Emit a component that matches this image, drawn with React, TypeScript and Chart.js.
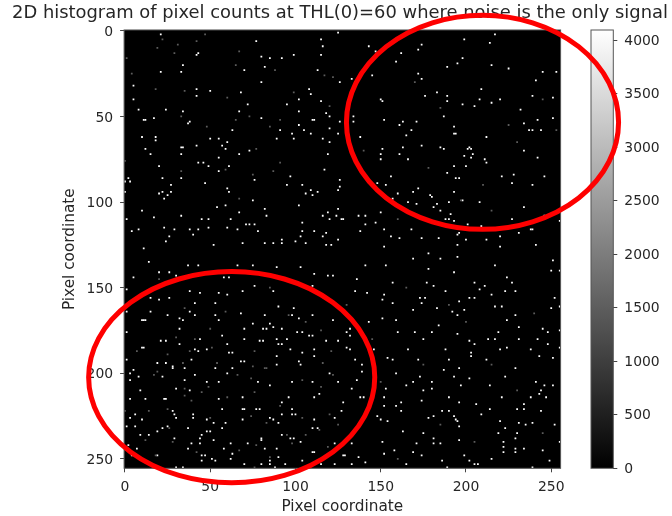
import { useEffect, useRef } from "react";
import { Chart, registerables } from "chart.js";

Chart.register(...registerables);

const titleText = "2D histogram of pixel counts at THL(0)=60 where noise is the only signal";
const axisLabel = "Pixel coordinate";
const axisTicks = [0, 50, 100, 150, 200, 250];
const colorbarTicks = [0, 500, 1000, 1500, 2000, 2500, 3000, 3500, 4000];
const colorbarMax = 4095;
const brightCount = 4095;
const dimCount = 1500;

const pixelsTopLeft: number[][] = [[21,2],[125,1],[115,5],[116,9],[77,6],[43,13],[42,14],[115,14],[99,14],[92,16],[85,16],[80,15],[82,21],[70,23],[113,23],[33,24],[21,24],[34,20],[80,30],[126,30],[5,32],[42,34],[68,36],[108,34],[50,35],[42,38],[5,40],[102,40],[115,41],[109,37],[72,43],[95,43],[8,46],[24,46],[34,47],[67,47],[102,47],[118,48],[120,50],[11,52],[12,52],[17,51],[80,51],[110,52],[111,52],[126,53],[38,53],[37,54],[102,55],[63,58],[91,58],[105,58],[120,57],[98,60],[109,60],[125,60],[10,62],[18,62],[18,64],[50,63],[55,63],[60,65],[89,63],[99,63],[116,63],[120,65],[42,67],[57,67],[33,68],[34,68],[12,69],[59,69],[73,70],[15,72],[33,72],[67,72],[119,72],[55,74],[43,77],[49,79],[61,79],[46,77],[20,79],[55,82],[117,81],[33,86],[22,86],[2,86],[3,88],[0,88],[76,87],[97,85],[126,87],[47,89],[27,90],[27,94],[0,94],[104,90],[126,91],[125,93],[109,93],[95,90],[60,92],[61,94],[23,98],[25,96],[20,95],[22,94],[106,95],[110,96],[113,94],[75,99],[54,103],[59,102],[82,104],[102,102],[125,104],[10,105],[67,106],[33,108],[116,108],[119,106],[124,108],[127,110],[120,110],[1,110],[17,109],[45,110],[62,110],[49,110],[83,108],[104,112],[73,113],[71,113],[76,113],[23,115],[8,116],[38,116],[4,117],[29,116],[60,115],[49,115],[66,116],[78,117],[43,116],[118,118],[111,117],[104,117],[26,120],[103,120],[116,120],[40,119],[92,122],[100,123],[125,122],[24,123],[52,125],[11,127],[69,124],[82,124],[87,124],[118,125],[92,124],[106,124],[121,125]];

const pixelsTopRight: number[][] = [[143,9],[217,2],[199,5],[214,7],[147,12],[162,13],[174,8],[172,11],[198,16],[195,19],[159,18],[215,20],[189,21],[225,22],[245,24],[253,24],[172,25],[145,26],[133,28],[174,28],[241,29],[209,34],[183,36],[176,38],[189,38],[239,38],[251,39],[150,40],[151,41],[189,41],[208,40],[198,43],[205,44],[220,40],[215,42],[232,46],[242,52],[251,51],[152,52],[171,53],[187,50],[163,53],[161,55],[134,50],[134,53],[234,54],[168,58],[193,56],[165,61],[193,60],[194,60],[239,58],[237,58],[244,58],[138,62],[212,62],[174,67],[202,68],[201,69],[203,69],[185,68],[163,68],[187,69],[151,69],[150,72],[161,72],[150,75],[199,73],[204,72],[203,74],[166,75],[211,75],[212,77],[234,70],[242,74],[193,79],[200,79],[221,85],[228,84],[246,85],[156,85],[189,83],[194,86],[196,86],[227,89],[148,89],[239,90],[153,90],[169,94],[172,92],[193,94],[179,96],[180,97],[157,98],[160,95],[198,99],[166,100],[171,101],[183,101],[181,103],[208,100],[185,105],[190,100],[234,103],[246,108],[191,107],[137,108],[128,110],[141,108],[150,106],[188,110],[190,110],[193,111],[227,110],[201,113],[209,114],[141,113],[147,112],[152,116],[168,116],[138,117],[196,118],[238,116],[239,116],[255,111],[156,120],[161,121],[174,121],[184,121],[195,119],[200,122],[212,122],[220,120],[231,118],[152,126],[195,125],[220,126],[241,125]];

const pixelsMidLeft: number[][] = [[14,135],[26,141],[43,137],[58,144],[61,144],[66,137],[75,137],[89,138],[103,138],[111,142],[119,143],[122,143],[136,145],[141,137],[5,144],[20,141],[30,143],[37,137],[76,149],[69,152],[38,152],[44,153],[55,153],[60,154],[87,152],[110,149],[135,152],[115,154],[1,151],[15,156],[20,157],[26,156],[142,153],[148,225],[141,252],[137,249],[140,214],[136,204],[139,228],[143,170],[146,186]];

const pixelsLowerA: number[][] = [[41,159],[53,159],[1,164],[15,164],[38,164],[25,166],[41,166],[53,166],[32,168],[34,169],[10,169],[11,169],[12,169],[55,169],[68,165],[1,176],[57,178],[32,174],[21,181],[24,181],[44,180],[60,183],[70,180],[11,185],[10,185],[48,186],[41,186],[43,187],[61,188],[63,188],[39,192],[1,192],[28,196],[28,197],[35,197],[53,197],[63,197],[5,198],[3,200],[60,200],[8,202],[22,202],[41,201],[35,204],[55,205],[48,205],[70,193],[68,193],[3,204],[24,194],[19,194],[32,183]];

const pixelsLowerB: number[][] = [[30,209],[38,210],[9,210],[23,215],[24,215],[3,215],[12,215],[55,215],[69,214],[57,221],[69,221],[28,222],[29,224],[40,224],[6,224],[3,226],[10,227],[30,226],[40,226],[48,227],[69,227],[52,229],[1,231],[6,231],[25,231],[37,232],[22,232],[57,232],[59,229],[19,234],[48,234],[50,234],[45,236],[29,238],[44,238],[52,239],[39,241],[62,241],[44,241],[58,244],[37,244],[2,242],[7,244],[47,248],[45,248],[63,247],[62,250],[34,255],[30,255],[45,251],[53,251],[51,250],[4,248],[19,248],[14,236],[9,236]];

const pixelsLowerC: number[][] = [[90,161],[99,162],[98,166],[82,166],[110,166],[102,168],[87,173],[85,171],[75,171],[81,174],[83,174],[92,174],[101,176],[104,176],[108,178],[110,178],[89,180],[79,181],[81,181],[95,180],[118,181],[125,181],[90,183],[92,183],[97,186],[111,186],[104,188],[111,190],[89,190],[89,195],[130,185],[132,186],[130,176],[132,174],[132,178],[122,169],[102,193],[139,195],[139,199],[78,205],[98,205],[110,205],[125,205],[120,200],[135,192],[103,195],[70,174]];

const pixelsLowerD: number[][] = [[85,207],[96,214],[111,214],[114,212],[133,209],[128,217],[70,221],[77,221],[79,221],[92,217],[98,221],[127,222],[98,224],[85,226],[87,227],[92,224],[111,227],[123,226],[100,224],[90,229],[110,232],[113,232],[92,236],[97,238],[99,238],[80,238],[80,239],[72,241],[89,244],[110,246],[111,246],[123,241],[103,240],[85,251],[90,249],[104,251],[123,253],[128,248],[94,253],[115,253],[85,253],[88,255],[70,253],[80,253],[133,253],[129,248],[133,241],[138,214],[82,244]];

const pixelsBottomRight: number[][] = [[178,130],[153,137],[169,133],[185,133],[195,132],[217,137],[251,134],[250,140],[255,140],[178,139],[193,141],[157,147],[177,147],[181,149],[205,147],[211,149],[208,151],[224,144],[227,147],[229,152],[215,154],[188,152],[152,154],[151,157],[173,156],[176,156],[196,158],[202,156],[205,156],[223,152],[174,159],[157,159],[217,161],[221,161],[252,156],[255,161],[183,162],[192,164],[195,166],[169,163],[151,168],[159,169],[224,169],[199,163],[229,166],[250,162],[231,173],[245,174],[248,176],[160,176],[170,176],[180,176],[184,172],[195,177],[219,176],[213,180],[217,180],[175,180],[202,181],[205,183],[255,175],[231,180],[242,180],[248,183],[224,185],[220,186],[238,186],[255,185],[166,186],[203,188],[203,190],[243,190],[188,186],[212,192],[190,192],[157,192],[154,191],[229,197],[196,197],[172,192],[251,191],[159,200],[187,198],[223,202],[193,202],[202,203],[241,205],[169,205],[180,205],[173,202],[165,207],[197,207],[214,207],[246,207],[251,207],[180,209],[153,209],[244,210],[243,212],[175,210],[152,214],[190,214],[221,214],[174,216],[162,217],[152,219],[159,219],[196,217],[206,218],[238,214],[234,218],[247,214],[214,221],[230,221],[234,221],[186,222],[190,222],[162,222],[193,225],[178,226],[181,225],[244,222],[194,227],[195,228],[209,224],[150,227],[154,228],[231,229],[235,230],[239,229],[196,231],[220,228],[219,235],[223,232],[252,230],[163,234],[175,235],[181,238],[230,235],[151,240],[196,239],[171,241],[181,241],[185,241],[222,240],[255,240],[229,238],[222,243],[229,244],[229,246],[234,244],[199,248],[169,246],[174,248],[158,245],[186,251],[202,251],[205,253],[207,253],[222,246],[245,245],[152,247],[165,253],[189,255],[239,255],[249,251],[215,250]];

const dimPixels: number[][] = [[47,2],[22,5],[42,6],[31,8],[19,10],[29,13],[67,12],[1,16],[65,20],[88,23],[4,25],[117,26],[122,27],[18,34],[35,35],[99,36],[60,39],[120,44],[33,50],[73,50],[65,52],[91,52],[48,56],[85,56],[0,76],[77,69],[33,82],[59,81],[91,77],[87,82],[75,84],[67,98],[170,30],[185,45],[225,55],[210,90],[245,40],[140,70],[178,80],[230,65],[160,110],[215,105],[253,58],[197,99],[20,145],[85,150],[130,160],[165,150],[200,170],[240,165],[175,195],[215,195],[150,205],[230,210],[185,230],[205,240],[245,235],[160,250],[190,160],[145,180],[59,164],[35,162],[50,174],[30,179],[41,180],[7,187],[54,194],[34,194],[17,201],[66,201],[51,185],[38,187],[19,199],[25,189],[35,209],[45,211],[60,214],[35,213],[39,216],[0,222],[14,222],[25,221],[50,226],[12,239],[28,240],[42,246],[18,248],[67,245],[26,232],[49,208],[76,187],[82,197],[83,197],[96,166],[106,170],[116,194],[122,201],[75,196],[121,187],[115,175],[74,203],[104,204],[115,208],[76,211],[91,219],[104,226],[120,224],[74,225],[83,229],[95,236],[106,236],[125,230],[114,233],[77,242],[119,243],[98,241],[76,255],[85,249]];

const ellipses = [
  { cx: 209.7, cy: 53.4, rx: 79.8, ry: 62.5 },
  { cx: 62.6, cy: 202.3, rx: 83.9, ry: 61.7 },
];

const toPoints = (list: number[][], value: number) => list.map(([x, y]) => ({ x, y, count: value }));
const grayOf = (value: number) => {
  const g = Math.round((value / colorbarMax) * 255);
  return `rgb(${g},${g},${g})`;
};

const FONT = "'DejaVu Sans'";
const TICK_SIZE = 13.9;
const INK = "#262626";

const framePlugin = {
  id: "frame",
  afterDatasetsDraw(chart: any) {
    const { ctx, chartArea: a } = chart;
    ctx.save();
    ctx.strokeStyle = "#555";
    ctx.lineWidth = 1;
    ctx.strokeRect(a.left, a.top, a.right - a.left, a.bottom - a.top);
    ctx.restore();
  },
};

const imagePlugin = {
  id: "image",
  afterLayout(chart: any) {
    // the title spans the page, not the padded box, and sits a little right of centre
    const t = chart.titleBlock;
    if (t) {
      t.left = 0;
      t.right = 680;
    }
  },
  beforeDatasetsDraw(chart: any) {
    const { ctx, chartArea: a } = chart;
    ctx.save();
    ctx.fillStyle = "#000";
    ctx.fillRect(a.left, a.top, a.right - a.left, a.bottom - a.top);
    ctx.restore();
  },
};

const ellipsePlugin = {
  id: "ellipses",
  afterDraw(chart: any) {
    const { ctx, scales } = chart;
    ctx.save();
    ctx.strokeStyle = "#fe0000";
    ctx.lineWidth = 5;
    for (const e of ellipses) {
      const cx = scales.x.getPixelForValue(e.cx);
      const cy = scales.y.getPixelForValue(e.cy);
      const rx = Math.abs(scales.x.getPixelForValue(e.cx + e.rx) - cx);
      const ry = Math.abs(scales.y.getPixelForValue(e.cy + e.ry) - cy);
      ctx.beginPath();
      ctx.ellipse(cx, cy, rx, ry, 0, 0, Math.PI * 2);
      ctx.stroke();
    }
    ctx.restore();
  },
};

const pixelAxis = (reverse: boolean, labelOffset: number, fit: (s: any) => void) => ({
  type: "linear" as const,
  min: -0.5,
  max: 255.5,
  reverse,
  afterBuildTicks(s: any) {
    s.ticks = axisTicks.map((value) => ({ value }));
  },
  afterFit: fit,
  border: { display: false },
  grid: { drawOnChartArea: false, drawTicks: true, tickLength: 4, tickColor: "#444", tickWidth: 1 },
  ticks: { color: INK, font: { family: FONT, size: TICK_SIZE }, padding: 7, labelOffset, autoSkip: false, maxRotation: 0 },
  title: { display: true, text: axisLabel, color: INK, font: { family: FONT, size: 15.3 }, padding: 0 },
});

export default function App() {
  const mainRef = useRef<HTMLCanvasElement>(null);
  const barRef = useRef<HTMLCanvasElement>(null);

  useEffect(() => {
    const bar = new Chart(barRef.current!, {
      type: "bar",
      data: {
        labels: ["counts"],
        datasets: [
          {
            data: [colorbarMax],
            barPercentage: 1,
            categoryPercentage: 1,
            backgroundColor: (c: any) => {
              const a = c.chart.chartArea;
              if (!a) return "#888";
              const g = c.chart.ctx.createLinearGradient(0, a.bottom, 0, a.top);
              g.addColorStop(0, grayOf(0));
              g.addColorStop(1, grayOf(colorbarMax));
              return g;
            },
          },
        ],
      },
      options: {
        responsive: false,
        animation: false,
        layout: { padding: { left: 591, right: 0, top: 30, bottom: 47.7 } },
        plugins: { legend: { display: false }, tooltip: { enabled: false }, title: { display: false } },
        scales: {
          x: { display: false },
          y: {
            position: "right",
            min: 0,
            max: colorbarMax,
            afterBuildTicks(s: any) {
              s.ticks = colorbarTicks.map((value) => ({ value }));
            },
            afterFit(s: any) {
              s.width = 58.7;
            },
            border: { display: false },
            grid: { drawOnChartArea: false, drawTicks: true, tickLength: 4, tickColor: "#444", tickWidth: 1 },
            ticks: {
              color: INK,
              font: { family: FONT, size: TICK_SIZE },
              padding: 7,
              labelOffset: 1,
              autoSkip: false,
              callback: (v: any) => String(v),
            },
          },
        },
      },
      plugins: [framePlugin],
    } as any);

    const main = new Chart(mainRef.current!, {
      type: "scatter",
      data: {
        datasets: [
          { data: toPoints(dimPixels, dimCount) },
          { data: toPoints(pixelsTopLeft, brightCount) },
          { data: toPoints(pixelsTopRight, brightCount) },
          { data: toPoints(pixelsMidLeft, brightCount) },
          { data: toPoints(pixelsLowerA, brightCount) },
          { data: toPoints(pixelsLowerB, brightCount) },
          { data: toPoints(pixelsLowerC, brightCount) },
          { data: toPoints(pixelsLowerD, brightCount) },
          { data: toPoints(pixelsBottomRight, brightCount) },
        ].map((d) => ({
          ...d,
          pointStyle: "rect",
          pointRadius: 1.25,
          borderWidth: 0,
          pointBorderWidth: 0,
          backgroundColor: grayOf(d.data[0].count),
          pointBackgroundColor: grayOf(d.data[0].count),
        })),
      },
      options: {
        responsive: false,
        animation: false,
        layout: { padding: { left: 61, right: 111.4, top: 0, bottom: 0 } },
        plugins: {
          legend: { display: false },
          tooltip: { enabled: false },
          title: {
            display: true,
            text: titleText,
            color: INK,
            font: { family: FONT, size: 17.9, weight: "normal" },
            padding: { top: 3, bottom: 5.5 },
          },
        },
        scales: {
          x: pixelAxis(false, 0, (s: any) => {
            s.height = 47.7;
          }),
          y: pixelAxis(true, 1.5, (s: any) => {
            s.width = 63.1;
          }),
        },
      },
      plugins: [imagePlugin, framePlugin, ellipsePlugin],
    } as any);

    return () => {
      main.destroy();
      bar.destroy();
    };
  }, []);

  const canvasStyle = { position: "absolute", left: 0, top: 0 } as const;
  return (
    <div style={{ position: "fixed", left: 0, top: 0, width: 672, height: 516, overflow: "hidden", background: "#fff" }}>
      <canvas ref={barRef} width={672} height={516} style={canvasStyle} />
      <canvas ref={mainRef} width={672} height={516} style={canvasStyle} />
    </div>
  );
}
